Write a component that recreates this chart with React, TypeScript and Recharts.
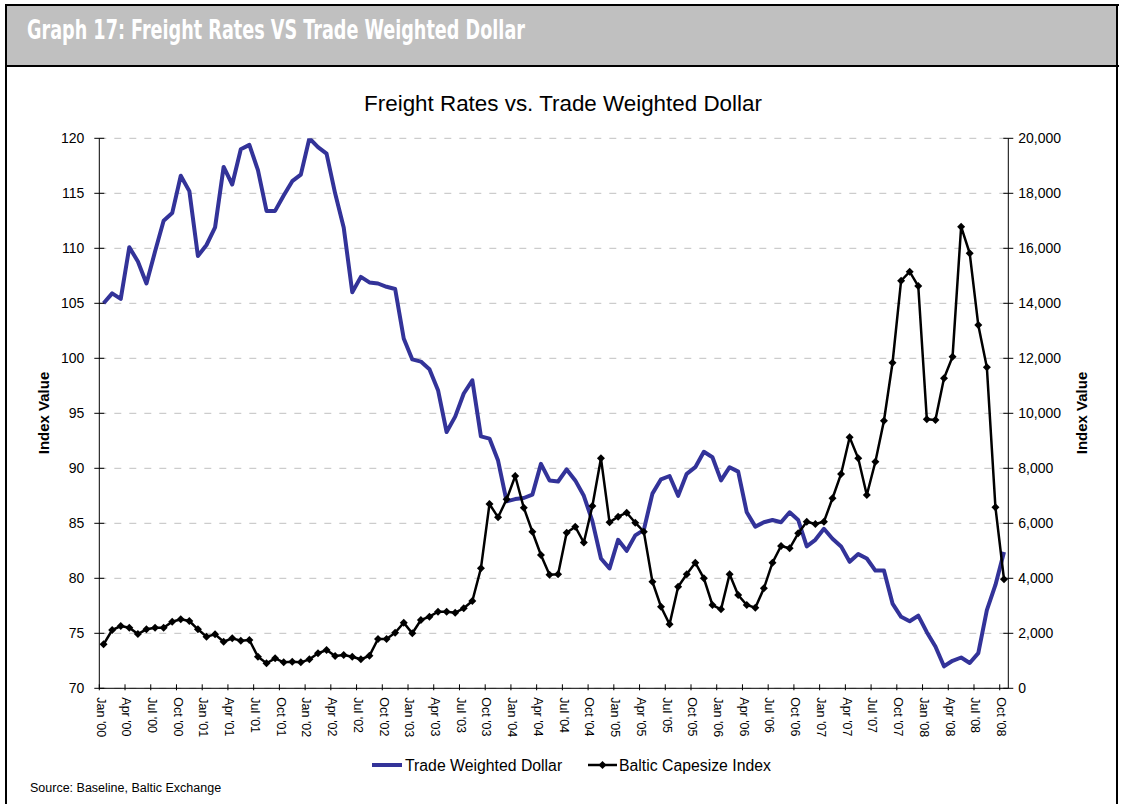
import React from 'react'
import { LineChart, Line, XAxis, YAxis, CartesianGrid } from 'recharts'

const MONTH_NAMES = ['Jan', 'Feb', 'Mar', 'Apr', 'May', 'Jun', 'Jul', 'Aug', 'Sep', 'Oct', 'Nov', 'Dec']
// Jan '00 .. Oct '08, monthly
const months = Array.from({ length: 106 }, (_, i) => `${MONTH_NAMES[i % 12]} '${String(Math.floor(i / 12)).padStart(2, '0')}`)

const tradeWeightedDollar = [
  105.0, 105.9, 105.4, 110.1, 108.8, 106.8, 109.7, 112.5, 113.2, 116.6, 115.2, 109.3,
  110.3, 111.9, 117.4, 115.8, 119.0, 119.4, 117.1, 113.4, 113.4, 114.8, 116.1, 116.7,
  120.0, 119.2, 118.6, 115.0, 111.9, 106.0, 107.4, 106.9, 106.8, 106.5, 106.3, 101.8,
  99.9, 99.7, 99.0, 97.1, 93.3, 94.7, 96.8, 98.0, 92.9, 92.7, 90.7, 87.0,
  87.2, 87.3, 87.6, 90.4, 88.9, 88.8, 89.9, 88.9, 87.5, 85.2, 81.8, 80.9,
  83.5, 82.5, 83.9, 84.4, 87.7, 89.0, 89.3, 87.5, 89.5, 90.1, 91.5, 91.0,
  88.9, 90.1, 89.7, 86.0, 84.7, 85.1, 85.3, 85.1, 86.0, 85.3, 82.9, 83.5,
  84.5, 83.6, 82.9, 81.5, 82.2, 81.8, 80.7, 80.7, 77.7, 76.5, 76.1, 76.6,
  75.1, 73.8, 72.0, 72.5, 72.8, 72.3, 73.2, 77.1, 79.4, 82.4,
]

const balticCapesize = [
  1600, 2120, 2265, 2204, 1974, 2145, 2204, 2204, 2422, 2509, 2447, 2145,
  1876, 1963, 1694, 1818, 1731, 1756, 1149, 909, 1091, 945, 967, 945,
  1054, 1273, 1393, 1174, 1211, 1149, 1054, 1185, 1793, 1793, 2022, 2385,
  2000, 2483, 2604, 2785, 2785, 2749, 2909, 3174, 4363, 6701, 6218, 6872,
  7719, 6567, 5694, 4847, 4130, 4145, 5658, 5876, 5300, 6629, 8363, 6036,
  6240, 6385, 6022, 5694, 3876, 2967, 2327, 3694, 4145, 4567, 4000, 3029,
  2872, 4145, 3392, 3029, 2931, 3636, 4567, 5174, 5090, 5636, 6058, 5974,
  6058, 6909, 7792, 9127, 8363, 7029, 8239, 9730, 11839, 14821, 15148, 14628,
  9781, 9756, 11272, 12058, 16785, 15818, 13210, 11672, 6581, 3963,
]

const leftTicks = [70, 75, 80, 85, 90, 95, 100, 105, 110, 115, 120]
const rightTicks = [0, 2000, 4000, 6000, 8000, 10000, 12000, 14000, 16000, 18000, 20000]
const monthTicks = months.map((_, i) => i).filter((i) => i % 3 === 0)

const data = months.map((m, i) => ({ i, month: m, twd: tradeWeightedDollar[i], bci: balticCapesize[i] }))

const W = 1124
const H = 804
const PLOT_L = 99.3
const PLOT_R = 1008.3
const PLOT_T = 138.3
const PLOT_B = 688.3
const HALF = (PLOT_R - PLOT_L) / months.length / 2
const FONT = "'Liberation Sans', Arial, sans-serif"

const XTick = (p: any) => (
  <g>
    <line x1={p.x - HALF} x2={p.x - HALF} y1={p.y - 4} y2={p.y + 2} stroke="#000" />
    <text transform={`translate(${p.x - 7},${p.y + 9}) rotate(90)`} fontSize={12.5} fontFamily={FONT} fill="#000">
      {months[p.payload.value]}
    </text>
  </g>
)

const LeftTick = (p: any) => (
  <g>
    <line x1={p.x - 5} x2={p.x + 5} y1={p.y} y2={p.y} stroke="#000" />
    <text x={p.x - 15} y={p.y} textAnchor="end" dominantBaseline="central" fontSize={14} fontFamily={FONT} fill="#000">
      {p.payload.value}
    </text>
  </g>
)

const RightTick = (p: any) => (
  <g>
    <line x1={p.x - 5} x2={p.x + 5} y1={p.y} y2={p.y} stroke="#000" />
    <text x={p.x + 10} y={p.y} textAnchor="start" dominantBaseline="central" fontSize={14} fontFamily={FONT} fill="#000">
      {Number(p.payload.value).toLocaleString('en-US')}
    </text>
  </g>
)

const Diamond = (p: any) => {
  const { cx, cy, index } = p
  if (cx == null || cy == null) return <g key={index} />
  return <path key={index} d={`M${cx},${cy - 4}L${cx + 4},${cy}L${cx},${cy + 4}L${cx - 4},${cy}Z`} fill="#000" />
}

export default function App() {
  return (
    <div style={{ position: 'absolute', left: 0, top: 0, width: W, height: H, background: '#fff', overflow: 'hidden' }}>
      <LineChart
        width={W}
        height={H}
        data={data}
        margin={{ top: PLOT_T, right: W - PLOT_R - 60, bottom: H - PLOT_B - 60, left: PLOT_L - 60 }}
      >
        <CartesianGrid yAxisId="left" vertical={false} stroke="#c0c0c0" strokeDasharray="7 8" />
        <XAxis
          dataKey="i"
          type="number"
          domain={[-0.5, months.length - 0.5]}
          allowDataOverflow
          ticks={monthTicks}
          interval={0}
          tickSize={0}
          tickMargin={0}
          tickLine={false}
          tick={XTick}
          height={60}
          axisLine={{ stroke: '#000' }}
        />
        <YAxis
          yAxisId="left"
          domain={[70, 120]}
          allowDataOverflow
          ticks={leftTicks}
          interval={0}
          tickSize={0}
          tickMargin={0}
          tickLine={false}
          tick={LeftTick}
          width={60}
          axisLine={{ stroke: '#000' }}
        />
        <YAxis
          yAxisId="right"
          orientation="right"
          domain={[0, 20000]}
          allowDataOverflow
          ticks={rightTicks}
          interval={0}
          tickSize={0}
          tickMargin={0}
          tickLine={false}
          tick={RightTick}
          width={60}
          axisLine={{ stroke: '#000' }}
        />
        <Line
          yAxisId="left"
          type="linear"
          dataKey="twd"
          name="Trade Weighted Dollar"
          stroke="#333399"
          strokeWidth={4}
          strokeLinejoin="round"
          dot={false}
          isAnimationActive={false}
        />
        <Line
          yAxisId="right"
          type="linear"
          dataKey="bci"
          name="Baltic Capesize Index"
          stroke="#000"
          strokeWidth={2.5}
          dot={Diamond}
          isAnimationActive={false}
        />
      </LineChart>

      <svg width={W} height={H} style={{ position: 'absolute', left: 0, top: 0, pointerEvents: 'none' }}>
        {/* frame + header */}
        <rect x={6} y={4} width={1112} height={62} fill="#c0c0c0" />
        <line x1={5} x2={1119} y1={5} y2={5} stroke="#000" strokeWidth={2} />
        <line x1={5} x2={1119} y1={66} y2={66} stroke="#000" strokeWidth={2} />
        <line x1={6} x2={6} y1={4} y2={H} stroke="#000" strokeWidth={2} />
        <line x1={1117} x2={1117} y1={4} y2={H} stroke="#000" strokeWidth={2} />
        <text
          x={27}
          y={39}
          fill="#fff"
          fontSize={27}
          fontWeight="bold"
          fontFamily="'Liberation Sans Narrow', 'DejaVu Sans Condensed', sans-serif"
          textLength={498}
          lengthAdjust="spacingAndGlyphs"
        >
          Graph 17: Freight Rates VS Trade Weighted Dollar
        </text>

        <text x={563} y={111} textAnchor="middle" fontSize={22.4} fontFamily={FONT} fill="#000">
          Freight Rates vs. Trade Weighted Dollar
        </text>

        <text transform="translate(43,413) rotate(-90)" textAnchor="middle" dominantBaseline="central" fontSize={15} fontWeight="bold" fontFamily={FONT} fill="#000">
          Index Value
        </text>
        <text transform="translate(1081,413) rotate(-90)" textAnchor="middle" dominantBaseline="central" fontSize={15} fontWeight="bold" fontFamily={FONT} fill="#000">
          Index Value
        </text>

        {/* legend */}
        <line x1={372} x2={402} y1={765} y2={765} stroke="#333399" strokeWidth={4} />
        <text x={405} y={765} dominantBaseline="central" fontSize={15.8} fontFamily={FONT} fill="#000">
          Trade Weighted Dollar
        </text>
        <line x1={588} x2={617} y1={765} y2={765} stroke="#000" strokeWidth={2.5} />
        <path d="M602.5,761L606.5,765L602.5,769L598.5,765Z" fill="#000" />
        <text x={619} y={765} dominantBaseline="central" fontSize={15.8} fontFamily={FONT} fill="#000">
          Baltic Capesize Index
        </text>

        <text x={30} y={792} fontSize={12.5} fontFamily={FONT} fill="#000">
          Source: Baseline, Baltic Exchange
        </text>
      </svg>
    </div>
  )
}
